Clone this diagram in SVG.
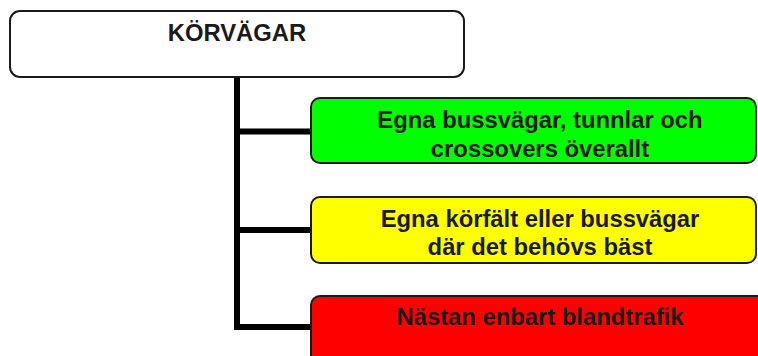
<svg xmlns="http://www.w3.org/2000/svg" width="758" height="356" viewBox="0 0 758 356">
<style>
.box{stroke:#1a1a1a;stroke-width:2}
.t{font-family:"Liberation Sans",Arial,sans-serif;font-weight:bold;font-size:23.8px;fill:#1a1a1a;text-anchor:middle}
.c{fill:none;stroke:#000;stroke-width:6}
</style>
<rect width="758" height="356" fill="#fff"/>
<g id="connectors">
<path class="c" d="M237 77 V330"/>
<path class="c" d="M234 131.5 H312"/>
<path class="c" d="M234 230 H312"/>
<path class="c" d="M234 327 H312"/>
</g>
<g id="korvagar">
<rect class="box" x="10" y="11" width="454" height="66" rx="10" fill="#fff" stroke-width="1.8"/>
<text class="t" x="237" y="41">KÖRVÄGAR</text>
</g>
<g id="green">
<rect class="box" x="311" y="98" width="445" height="65" rx="9" fill="#00ff00"/>
<text class="t" x="540" y="128.3">Egna bussvägar, tunnlar och</text>
<text class="t" x="540" y="156.7">crossovers överallt</text>
</g>
<g id="yellow">
<rect class="box" x="311" y="197" width="445" height="66" rx="9" fill="#ffff00"/>
<text class="t" x="540" y="226.7">Egna körfält eller bussvägar</text>
<text class="t" x="540" y="255">där det behövs bäst</text>
</g>
<g id="red">
<rect class="box" x="311" y="296" width="470" height="80" rx="9" fill="#ff0000"/>
<text class="t" x="540" y="325">Nästan enbart blandtrafik</text>
</g>
</svg>
